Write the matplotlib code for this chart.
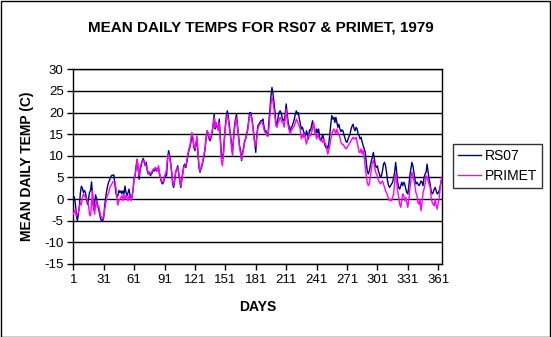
import matplotlib
matplotlib.use("Agg")
import matplotlib.pyplot as plt
import numpy as np

plt.rcParams['font.family'] = ['Liberation Sans', 'DejaVu Sans']

title = "MEAN DAILY TEMPS FOR RS07 & PRIMET, 1979"
xlabel = "DAYS"
ylabel = "MEAN DAILY TEMP (C)"
series_names = ["RS07", "PRIMET"]
xtick_labels = [1, 31, 61, 91, 121, 151, 181, 211, 241, 271, 301, 331, 361]
ytick_labels = [-15, -10, -5, 0, 5, 10, 15, 20, 25, 30]

rs07 = [
    # days 1-60
    0.0, 0.5, -1.0, -3.5, -5.0, -3.5, -1.5, 1.5, 3.0, 2.5,
    1.5, 2.0, 1.5, 0.0, -1.2, 0.0, 1.5, 2.0, 4.0, 0.8,
    -2.5, -1.0, 1.0, 0.0, -1.5, -2.3, -3.5, -4.6, -5.0, -5.0,
    -4.2, -1.5, 0.5, 2.0, 3.2, 4.0, 4.5, 5.2, 5.5, 5.5,
    5.6, 3.5, 1.5, 0.5, 0.8, 2.0, 1.5, 1.9, 1.2, 1.9,
    1.2, 3.0, 1.5, 0.8, 1.5, 2.3, 0.8, 0.0, 0.5, 2.3,
    # days 61-126
    5.0, 5.4, 7.7, 9.2, 6.9, 4.6, 6.9, 7.7, 8.9, 9.4,
    8.5, 7.7, 8.5, 6.5, 5.8, 6.2, 5.4, 5.8, 6.2, 6.9,
    6.5, 7.3, 6.5, 6.9, 7.3, 5.8, 4.8, 3.9, 3.5, 3.9,
    5.0, 5.4, 5.4, 9.2, 11.2, 10.0, 8.5, 6.2, 3.5, 2.7,
    4.2, 6.2, 6.9, 7.7, 5.8, 4.2, 2.7, 4.6, 6.2, 7.7,
    8.1, 7.3, 8.5, 10.0, 11.2, 12.0, 13.1, 15.0, 13.9, 11.9,
    11.2, 12.7, 13.9, 10.4, 7.3, 6.2,
    # days 127-197
    7.0, 7.7, 8.9, 10.0, 11.6, 13.9, 15.8, 15.0, 13.9, 13.5,
    14.3, 15.4, 17.3, 19.6, 16.2, 17.3, 16.6, 16.2, 18.5, 14.6,
    10.5, 9.5, 10.5, 13.9, 16.9, 19.3, 20.4, 18.9, 16.9, 15.0,
    13.1, 10.8, 13.9, 16.9, 18.5, 19.6, 16.9, 14.6, 12.3, 11.2,
    8.9, 10.8, 11.9, 13.5, 13.9, 15.0, 16.2, 18.1, 20.0, 20.0,
    18.9, 17.3, 15.0, 13.1, 10.8, 14.6, 16.9, 17.3, 17.7, 18.1,
    18.1, 18.5, 16.9, 15.8, 15.8, 15.0, 14.6, 18.1, 20.8, 23.9,
    25.8,
    # days 198-274
    24.3, 22.3, 20.0, 17.3, 16.9, 18.9, 20.0, 20.4, 20.0, 18.9,
    18.1, 18.1, 19.6, 22.0, 19.6, 17.7, 16.6, 15.8, 16.6, 16.9,
    17.7, 18.5, 19.6, 20.4, 19.6, 20.0, 18.5, 17.3, 16.2, 16.6,
    15.8, 15.0, 14.6, 15.8, 15.0, 13.9, 16.0, 15.8, 16.9, 18.1,
    16.9, 16.2, 15.0, 16.2, 15.4, 16.2, 14.3, 13.5, 13.9, 15.0,
    13.9, 12.7, 11.9, 12.3, 11.6, 12.7, 15.0, 17.3, 19.3, 18.5,
    18.9, 17.7, 18.9, 17.7, 16.6, 17.3, 16.2, 15.6, 16.0, 15.8,
    14.8, 14.1, 13.3, 13.1, 13.9, 14.5, 15.0,
    # days 275-343
    16.2, 16.9, 17.3, 16.2, 15.8, 16.6, 16.2, 15.0, 14.6, 13.9,
    14.3, 13.1, 12.3, 11.6, 10.8, 8.5, 6.5, 5.8, 6.5, 7.7,
    8.9, 9.6, 10.8, 9.2, 7.7, 7.3, 7.7, 6.5, 5.8, 5.0,
    5.4, 6.5, 8.1, 8.5, 7.7, 6.2, 4.2, 3.1, 2.7, 3.1,
    3.5, 3.9, 5.0, 6.2, 8.5, 6.2, 3.9, 2.7, 2.3, 3.1,
    3.9, 3.1, 3.9, 3.5, 2.3, 1.5, 1.2, 3.1, 5.4, 6.9,
    8.5, 7.7, 6.2, 4.6, 3.5, 3.9, 3.5, 3.1, 3.5,
    # days 344-365
    4.2, 3.9, 3.1, 5.0, 5.8, 6.2, 8.1, 6.2, 4.6, 3.5,
    1.9, 1.2, 1.5, 2.3, 2.7, 1.9, 1.2, 1.5, 1.9, 3.1,
    4.2, 5.0,
]

primet = [
    # days 1-64
    -3.5, -3.0, -2.3, -3.9, -3.5, -3.1, -1.9, -0.8, -1.3, 0.4,
    1.2, 0.8, 0.4, 0.2, -0.4, -1.5, -3.5, -3.9, -0.8, 1.9,
    -1.5, -3.5, -1.5, -0.4, -1.9, -1.5, -2.7, -3.9, -4.2, -4.6,
    -3.9, -2.3, -1.0, 0.4, 1.0, 1.5, 2.7, 3.1, 3.5, 4.0,
    4.0, 4.0, 2.7, 0.0, -1.4, -0.4, 0.0, 0.4, 0.8, -0.4,
    1.2, 0.0, 0.8, 0.4, -0.4, 0.8, 0.2, -0.4, 0.8, 2.3,
    4.5, 5.8, 6.9, 9.2,
    # days 65-126
    7.3, 5.4, 7.7, 8.1, 8.5, 9.0, 8.9, 8.1, 7.7, 6.9,
    6.2, 5.8, 5.8, 6.2, 6.5, 6.9, 6.9, 7.3, 6.9, 6.5,
    7.7, 6.2, 5.0, 4.2, 3.9, 4.2, 5.4, 5.8, 6.9, 9.6,
    10.4, 9.6, 8.1, 6.5, 4.2, 3.1, 4.6, 6.5, 6.9, 7.3,
    6.2, 4.6, 3.1, 4.2, 5.8, 7.3, 7.7, 7.7, 8.9, 10.4,
    11.6, 12.3, 13.9, 15.4, 14.3, 12.3, 11.6, 13.1, 14.6, 10.8,
    7.7, 6.5,
    # days 127-194
    7.3, 8.1, 9.2, 10.4, 11.9, 14.3, 15.8, 15.4, 14.3, 13.9,
    14.6, 15.8, 17.3, 18.9, 16.6, 17.7, 16.9, 15.8, 17.7, 13.5,
    9.2, 7.7, 9.6, 13.5, 16.6, 18.5, 19.6, 18.1, 16.2, 14.6,
    12.3, 10.0, 13.5, 16.2, 17.7, 18.9, 16.6, 14.3, 11.9, 10.4,
    9.2, 10.4, 11.6, 13.1, 13.9, 14.6, 15.8, 17.7, 19.3, 19.6,
    18.5, 16.9, 14.6, 12.7, 12.3, 14.3, 16.2, 16.9, 17.3, 17.7,
    17.7, 17.3, 16.2, 15.4, 15.4, 14.6, 14.6, 16.6,
    # days 195-264
    19.3, 22.0, 23.5, 22.7, 20.8, 18.9, 16.9, 16.6, 17.7, 18.1,
    18.9, 18.5, 17.7, 17.7, 16.6, 18.5, 20.8, 18.5, 16.9, 15.8,
    15.0, 15.8, 16.2, 16.6, 16.9, 17.7, 18.5, 18.1, 17.3, 16.9,
    15.8, 13.9, 15.0, 14.3, 15.0, 13.9, 12.7, 13.9, 14.6, 15.0,
    14.6, 15.4, 16.2, 17.7, 16.2, 15.0, 13.9, 15.0, 14.3, 13.9,
    13.5, 13.5, 13.1, 13.9, 13.1, 12.7, 11.6, 10.4, 11.2, 12.3,
    13.9, 15.0, 15.8, 16.2, 15.8, 15.0, 16.2, 15.4, 15.0, 14.3,
    # days 265-335
    13.1, 12.7, 12.7, 12.3, 11.9, 11.6, 11.9, 12.3, 12.7, 13.1,
    13.5, 13.9, 14.3, 13.9, 13.9, 14.3, 13.1, 11.9, 10.8, 10.8,
    11.6, 10.4, 11.2, 9.6, 7.3, 5.4, 3.9, 3.1, 3.5, 5.0,
    6.9, 8.5, 8.9, 7.7, 6.5, 5.8, 5.4, 4.2, 3.9, 3.5,
    3.9, 4.2, 3.5, 2.7, 1.9, 1.5, 0.8, 0.0, -0.4, 0.0,
    -0.4, 0.4, 1.2, 3.9, 5.8, 3.9, 1.9, 0.4, -1.2, -1.9,
    -0.4, 1.2, 0.8, -0.4, 0.4, -0.8, -1.9, 0.0, 2.3, 4.2,
    6.2,
    # days 336-365
    5.4, 4.2, 3.1, 1.5, 0.8, -0.8, -1.2, 0.0, -2.7, -0.8,
    1.5, 2.3, 3.5, 5.4, 5.0, 4.2, 3.5, 2.7, 0.4, -0.8,
    -1.2, -1.5, 0.0, -1.5, -2.3, -0.8, 0.4, 2.7, 4.6, 5.4,
]

days = np.arange(1, len(rs07) + 1)
days_p = np.arange(1, len(primet) + 1)

fig = plt.figure(figsize=(5.51, 3.37), dpi=100)
fig.patch.set_facecolor("white")
ax = fig.add_axes([73.3 / 551, 1 - 264 / 337, (442.3 - 73.3) / 551, (264 - 69.3) / 337])

for y in ytick_labels:
    ax.axhline(y, color="black", lw=1.0, zorder=1)

ax.plot(days, rs07, color="#000080", lw=1.0, label=series_names[0], zorder=3)
ax.plot(days_p, primet, color="#FF00FF", lw=1.0, label=series_names[1], zorder=4)

ax.set_xlim(1, 365)
ax.set_ylim(-15, 30)
ax.set_xticks(xtick_labels)
ax.set_xticklabels([str(v) for v in xtick_labels], fontsize=9.5)
ax.set_yticks(ytick_labels)
ax.set_yticklabels([str(v) for v in ytick_labels], fontsize=9.5)
ax.tick_params(axis="both", direction="out", length=4, width=1, color="black", pad=3)
for s in ax.spines.values():
    s.set_color("black")
    s.set_linewidth(1.0)

ax.set_xlabel(xlabel, fontsize=10, fontweight="bold", labelpad=10)
ax.set_ylabel(ylabel, fontsize=10, fontweight="bold", labelpad=7)

fig.text(260.5 / 551, 1 - 27 / 337, title, fontsize=11, fontweight="bold",
         ha="center", va="center")

leg = ax.legend(loc="center left",
                bbox_to_anchor=((453 - 73.3) / (442.3 - 73.3),
                                (1 - 166 / 337 - (1 - 264 / 337)) / ((264 - 69.3) / 337)),
                frameon=True, fancybox=False, fontsize=10, handlelength=1.65,
                handletextpad=0.3, borderpad=0.35, labelspacing=0.45, borderaxespad=0)
leg.get_frame().set_edgecolor("black")
leg.get_frame().set_linewidth(1.0)

border = plt.Rectangle((0.5 / 551, 0.5 / 337), 549.5 / 551, 335.5 / 337, transform=fig.transFigure,
                       fill=False, edgecolor="black", lw=1.0)
fig.patches.append(border)

fig.savefig("out.png", dpi=100, facecolor="white")
